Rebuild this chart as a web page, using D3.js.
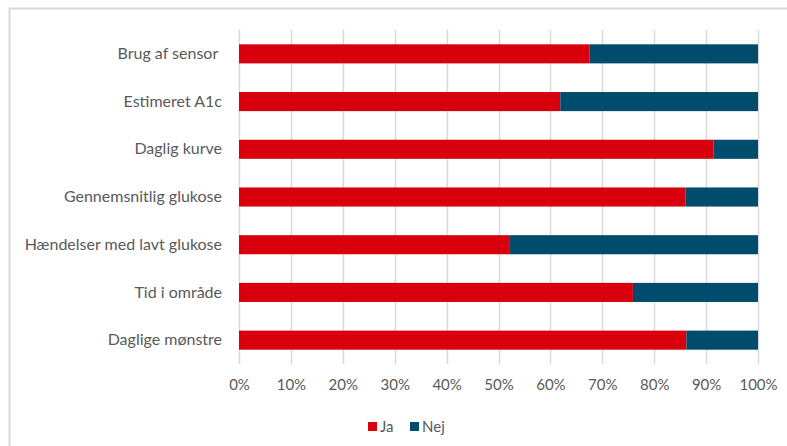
<!DOCTYPE html>
<html>
<head>
<meta charset="utf-8">
<script src="https://cdn.jsdelivr.net/npm/d3@7"></script>
<style>
  body { margin: 0; background: #fff; }
  svg text { font-family: Lato, "Open Sans", sans-serif; fill: #595959; white-space: pre; }
</style>
</head>
<body>
<div id="chart"></div>
<script>
const categories = ["Brug af sensor ", "Estimeret A1c", "Daglig kurve", "Gennemsnitlig glukose",
  "Hændelser med lavt glukose", "Tid i område", "Daglige mønstre"];
const jaValues = [0.675, 0.619, 0.914, 0.860, 0.522, 0.759, 0.862];
const nejValues = jaValues.map(v => 1 - v);
const seriesNames = ["Ja", "Nej"];
const tickValues = [0, 0.1, 0.2, 0.3, 0.4, 0.5, 0.6, 0.7, 0.8, 0.9, 1];

const width = 787, height = 446;
const margin = { top: 30, right: 29, bottom: 82, left: 239 };
const colors = { Ja: "#d9000d", Nej: "#004c6d" };

const rows = categories.map((c, i) => ({ cat: c, Ja: jaValues[i], Nej: nejValues[i] }));
const stacked = d3.stack().keys(seriesNames)(rows);

const svg = d3.select("#chart")
  .append("svg")
  .attr("width", width)
  .attr("height", height);

// chart frame
svg.append("rect")
  .attr("x", 9.5).attr("y", 8.5)
  .attr("width", width).attr("height", height)
  .attr("fill", "none")
  .attr("stroke", "#d9d9d9")
  .attr("stroke-width", 2);

const x = d3.scaleLinear()
  .domain([0, 1])
  .range([margin.left, width - margin.right]);

const y = d3.scaleBand()
  .domain(categories)
  .range([margin.top, height - margin.bottom])
  .paddingInner(0.6)
  .paddingOuter(0.3);

// gridlines
svg.append("g")
  .selectAll("line")
  .data(tickValues)
  .enter()
  .append("line")
  .attr("x1", d => Math.round(x(d)) + 0.5)
  .attr("x2", d => Math.round(x(d)) + 0.5)
  .attr("y1", margin.top)
  .attr("y2", height - margin.bottom)
  .attr("stroke", "#d9d9d9")
  .attr("stroke-width", 1.5);

svg.append("g")
  .selectAll("g")
  .data(stacked)
  .enter()
  .append("g")
  .attr("fill", d => colors[d.key])
  .selectAll("rect")
  .data(d => d)
  .enter()
  .append("rect")
  .attr("x", d => x(d[0]))
  .attr("y", d => y(d.data.cat))
  .attr("width", d => x(d[1]) - x(d[0]))
  .attr("height", y.bandwidth());

// x axis labels
const xAxis = svg.append("g")
  .attr("transform", `translate(0,${height - margin.bottom + 5})`)
  .call(d3.axisBottom(x).tickValues(tickValues).tickFormat(d3.format(".0%")).tickSize(0).tickPadding(10));
xAxis.select(".domain").remove();
xAxis.selectAll("text").attr("font-size", 15).style("font-family", "Lato, sans-serif").attr("fill", "#595959");

// y axis labels
const yAxis = svg.append("g")
  .attr("transform", `translate(${margin.left},0)`)
  .call(d3.axisLeft(y).tickSize(0).tickPadding(17));
yAxis.select(".domain").remove();
yAxis.selectAll("text").attr("font-size", 16).style("font-family", "Lato, sans-serif")
  .style("white-space", "pre").attr("fill", "#595959");

// Legend
const legend = svg.append("g")
  .attr("transform", "translate(368,422)");

const legendData = [
  { label: "Ja", color: colors.Ja, dx: 0 },
  { label: "Nej", color: colors.Nej, dx: 42 }
];

legend.selectAll("g")
  .data(legendData)
  .enter()
  .append("g")
  .attr("transform", d => `translate(${d.dx},0)`)
  .each(function(d) {
    d3.select(this)
      .append("rect")
      .attr("width", 9)
      .attr("height", 9)
      .attr("fill", d.color);

    d3.select(this)
      .append("text")
      .attr("x", 12)
      .attr("y", 9.5)
      .attr("font-size", 15)
      .text(d.label);
  });
</script>
</body>
</html>
